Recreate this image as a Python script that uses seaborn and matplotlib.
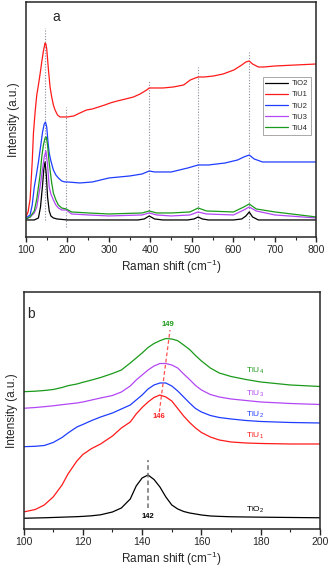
import numpy as np
import pandas as pd
import matplotlib
matplotlib.use("Agg")
import matplotlib.pyplot as plt
import seaborn as sns

# ---------------- Panel a data (Raman shift, intensity a.u.) ----------------
a_tio2_x = [100, 120, 130, 135, 140, 143, 146, 149, 152, 156, 160, 166, 175, 200, 300, 370, 385, 397, 410, 430,
            490, 505, 515, 525, 540, 600, 620, 630, 638, 646, 660, 700, 800]
a_tio2_y = [17, 17, 19, 30, 52, 68, 75, 62, 40, 26, 21, 19, 18, 17, 17, 17, 18, 21, 18, 17,
            17, 18, 20, 18, 17, 17, 18, 21, 25, 20, 17, 17, 17]

a_tiu1_x = [100, 105, 110, 115, 118, 122, 126, 130, 134, 138, 142, 146, 148, 150, 154, 158, 162, 166, 170, 176,
            182, 188, 194, 200, 215, 230, 246, 260, 275, 290, 303, 320, 340, 359, 375, 391, 397, 410, 430, 455,
            480, 496, 508, 515, 530, 552, 575, 601, 620, 630, 638, 646, 660, 673, 700, 750, 800]
a_tiu1_y = [20, 25, 38, 75, 104, 125, 142, 152, 163, 175, 186, 194, 193, 188, 168, 150, 140, 132, 127, 122,
            120, 120, 120, 120, 121, 124, 127, 128, 130, 132, 134, 136, 138, 140, 143, 147, 149, 149, 149, 150,
            152, 157, 159, 160, 160, 161, 163, 167, 172, 175, 176, 173, 170, 170, 171, 172, 173]

a_tiu2_x = [100, 110, 115, 120, 125, 130, 135, 140, 144, 147, 150, 153, 156, 160, 166, 172, 178, 186, 194, 200,
            230, 260, 300, 350, 380, 397, 410, 450, 490, 515, 540, 580, 610, 625, 638, 650, 670, 700, 800]
a_tiu2_y = [19, 22, 32, 50, 62, 75, 90, 105, 113, 115, 110, 95, 84, 76, 67, 62, 59, 56, 55, 55,
            54, 55, 59, 61, 63, 66, 65, 65, 69, 72, 72, 74, 77, 80, 82, 78, 75, 75, 75]

a_tiu3_x = [100, 110, 120, 126, 130, 134, 140, 144, 148, 152, 156, 160, 166, 172, 178, 186, 197, 210, 250, 300,
            380, 397, 415, 450, 495, 515, 535, 600, 625, 638, 655, 700, 800]
a_tiu3_y = [18, 20, 24, 30, 40, 50, 68, 80, 86, 72, 50, 43, 37, 32, 29, 27, 27, 23, 22, 21,
            22, 24, 22, 21, 22, 25, 23, 22, 27, 30, 26, 22, 19]

a_tiu4_x = [100, 110, 120, 126, 130, 134, 138, 142, 146, 149, 152, 155, 158, 162, 166, 172, 178, 186, 197, 210,
            250, 300, 380, 397, 415, 450, 495, 515, 535, 600, 625, 638, 655, 700, 800]
a_tiu4_y = [18, 20, 26, 38, 50, 62, 80, 92, 99, 100, 92, 78, 67, 54, 44, 37, 32, 29, 28, 25,
            24, 23, 24, 26, 24, 24, 25, 29, 26, 25, 30, 33, 28, 25, 20]

a_peak_pos = [146, 197, 397, 515, 638]
a_peak_top = [209, 130, 157, 170, 185]
a_peak_bot = [17, 10, 10, 8, 9]
a_xticks = [100, 200, 300, 400, 500, 600, 700, 800]

# ---------------- Panel b data ----------------
b_x = [100, 104, 107, 110, 113, 115, 118, 120, 123, 126, 130, 133, 136, 138, 140, 142, 144, 146, 148, 150,
       152, 154, 156, 158, 160, 163, 166, 170, 175, 180, 190, 200]
b_tio2_y = [10.7, 11, 11.2, 11.5, 11.8, 12, 12.3, 12.6, 13.2, 14.2, 17, 21, 30, 43, 51, 54, 49.5, 42, 32, 24,
            20, 17.5, 16, 15, 14, 13, 12.6, 12.2, 12, 11.8, 11.5, 11.2]
b_tiu1_y = [17, 19.5, 24, 32, 44, 55, 68, 74.5, 80.5, 85, 93, 101, 107, 115, 121.5, 127, 131.5, 134, 132, 128,
            120.5, 113, 106.5, 101, 96.5, 92, 89, 87, 86, 85.5, 85, 85]
b_tiu2_y = [82.3, 82.7, 83.5, 86.5, 91.5, 96, 102, 104.5, 108.5, 112, 116, 120, 124, 129, 134, 140, 144, 146, 146, 143,
            138, 132, 126, 120.5, 117, 113.5, 111.5, 110, 108.5, 107.5, 106.5, 106]
b_tiu3_y = [120.7, 121.5, 122.3, 123.2, 124.3, 125, 126, 127, 129, 131, 133.5, 137, 143, 149, 154, 159, 163, 165.5, 165.5, 164,
            161, 155, 149.5, 143.5, 139, 134.5, 132, 130, 128.5, 127, 125.5, 124.5]
b_tiu4_y = [137.3, 137.8, 138.5, 139.5, 141.5, 143.3, 145, 146.7, 149, 151.5, 155.5, 159, 166, 171, 176, 181.5, 185.5, 188.3, 190.5, 190,
            188.3, 184, 179.5, 173.5, 168, 161, 156, 152.5, 149.5, 147, 144, 142.5]
b_xticks = [100, 120, 140, 160, 180, 200]

names_a = ["TiO2", "TiU1", "TiU2", "TiU3", "TiU4"]
names_b = ["TiO$_2$", "TiU$_1$", "TiU$_2$", "TiU$_3$", "TiU$_4$"]
colors = ["#000000", "#ff1a1a", "#1f3dff", "#b347f5", "#1a9a1a"]
b_label_x = [178, 178, 178, 178, 178]
b_label_y = [19, 93, 114, 135, 158]

# ---------------- Style ----------------
sns.set_style("ticks")
plt.rcParams["font.family"] = ["Liberation Sans", "DejaVu Sans"]
plt.rcParams["mathtext.default"] = "regular"
plt.rcParams["axes.linewidth"] = 1.1

fig = plt.figure(figsize=(3.31, 5.71), dpi=100)
ax_a = fig.add_axes([0.0785, 0.585, 0.8775, 0.4115])
ax_b = fig.add_axes([0.071, 0.0736, 0.896, 0.415])

lw = 0.9

# Panel a
series_a = [(a_tio2_x, a_tio2_y), (a_tiu1_x, a_tiu1_y), (a_tiu2_x, a_tiu2_y),
            (a_tiu3_x, a_tiu3_y), (a_tiu4_x, a_tiu4_y)]
for (xs, ys), name, c in zip(series_a, names_a, colors):
    df = pd.DataFrame({"shift": xs, "I": ys})
    sns.lineplot(data=df, x="shift", y="I", color=c, lw=lw, ax=ax_a, label=name,
                 estimator=None, sort=False)
for p, t, b in zip(a_peak_pos, a_peak_top, a_peak_bot):
    ax_a.plot([p, p], [b, t], ls=(0, (1, 1.5)), color="#8a8aa0", lw=0.8, zorder=0)
ax_a.set_xlim(100, 800)
ax_a.set_ylim(0, 235)
ax_a.set_xticks(a_xticks)
ax_a.set_xticks(np.arange(150, 800, 100), minor=True)
ax_a.set_yticks([])
ax_a.tick_params(axis="x", which="major", direction="out", length=3.5, width=1, labelsize=7.5, pad=2)
ax_a.tick_params(axis="x", which="minor", direction="out", length=2, width=0.8)
ax_a.set_xlabel("Raman shift (cm$^{-1}$)", fontsize=8.5, labelpad=2)
ax_a.set_ylabel("Intensity (a.u.)", fontsize=8.5, labelpad=4)
ax_a.text(172, 220, "a", fontsize=10, ha="center", va="center")
leg = ax_a.legend(loc="upper left", bbox_to_anchor=(0.815, 0.68), fontsize=5.5, frameon=True,
                  fancybox=False, edgecolor="#808080", handlelength=3.0, borderpad=0.35,
                  labelspacing=0.5, handletextpad=0.5, borderaxespad=0)
leg.get_frame().set_linewidth(0.6)
for sp in ax_a.spines.values():
    sp.set_visible(True)

# Panel b
series_b = [b_tio2_y, b_tiu1_y, b_tiu2_y, b_tiu3_y, b_tiu4_y]
for ys, c in zip(series_b, colors):
    df = pd.DataFrame({"shift": b_x, "I": ys})
    sns.lineplot(data=df, x="shift", y="I", color=c, lw=lw, ax=ax_b, estimator=None, sort=False)
for name, c, lx, ly in zip(names_b, colors, b_label_x, b_label_y):
    ax_b.text(lx, ly, name, color=c, fontsize=6, ha="center", va="center")
ax_b.plot([142, 142], [21, 69], ls=(0, (3, 2)), color="#707070", lw=1.1)
ax_b.plot([145.8, 149.4], [117, 199], ls=(0, (3, 2)), color="#ff5050", lw=0.9)
ax_b.text(148.8, 205, "149", color="#1a9a1a", fontsize=5.5, fontweight="bold", ha="center", va="center")
ax_b.text(145.8, 112, "146", color="#ff2020", fontsize=5.5, fontweight="bold", ha="center", va="center")
ax_b.text(142, 12, "142", color="#000000", fontsize=5.5, fontweight="bold", ha="center", va="center")
ax_b.text(102.5, 215, "b", fontsize=10, ha="center", va="center")
ax_b.set_xlim(100, 200)
ax_b.set_ylim(0, 237)
ax_b.set_xticks(b_xticks)
ax_b.set_xticks(np.arange(110, 200, 20), minor=True)
ax_b.set_yticks([])
ax_b.tick_params(axis="x", which="major", direction="out", length=4, width=1, labelsize=7.5, pad=2)
ax_b.tick_params(axis="x", which="minor", direction="out", length=2.5, width=0.8)
ax_b.set_xlabel("Raman shift (cm$^{-1}$)", fontsize=8.5, labelpad=2)
ax_b.set_ylabel("Intensity (a.u.)", fontsize=8.5, labelpad=4)
for sp in ax_b.spines.values():
    sp.set_visible(True)

fig.savefig("out.png", dpi=100)
